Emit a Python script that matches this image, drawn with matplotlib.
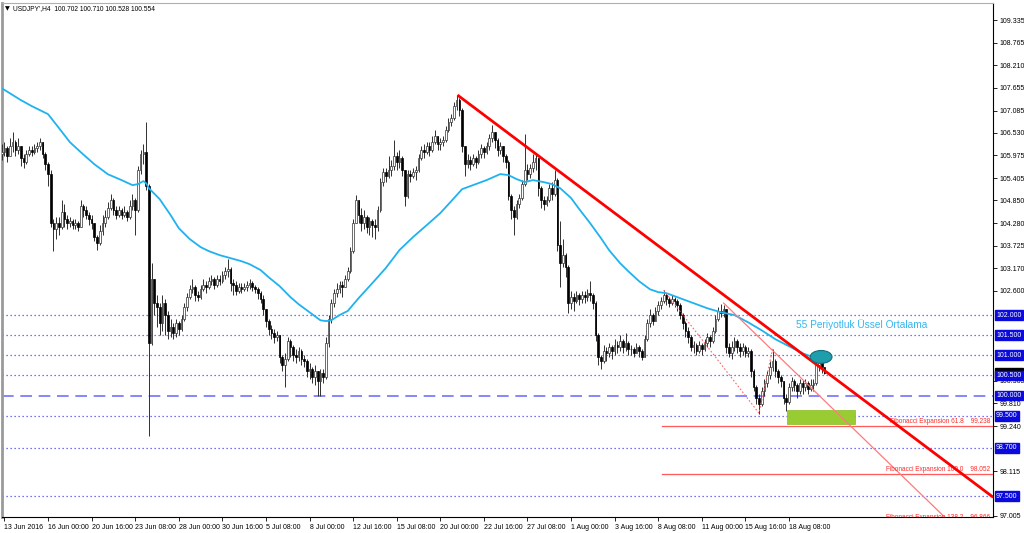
import numpy as np
import matplotlib
matplotlib.use("Agg")
import matplotlib.pyplot as plt
from matplotlib.patches import Rectangle, Ellipse
import matplotlib.transforms as mtransforms

# ---------------- data (H4 bars, index 1 = 13 Jun 2016 04:00) ----------------
first_open = 106.00
closes = [
    106.05, 106.15, 105.95, 106.2, 106.3, 106.1, 106.2, 105.9, 105.8, 106.0,
    106.1, 106.05, 106.15, 106.2, 106.3, 106.0, 105.75, 105.5, 104.3, 104.15,
    104.3, 104.2, 104.55, 104.4, 104.3, 104.35, 104.25, 104.3, 104.2, 104.7,
    104.6, 104.5, 104.4, 104.3, 103.95, 103.8, 104.1, 104.3, 104.45, 104.65,
    104.85, 104.6, 104.5, 104.6, 104.5, 104.55, 104.45, 104.7, 104.85, 104.6,
    105.6, 106.0, 106.05, 105.2, 101.3, 102.9, 102.3, 102.2, 101.8, 102.3,
    102.0, 101.6, 101.7, 101.55, 101.8, 101.65, 101.9, 102.2, 102.45, 102.65,
    102.7, 102.5, 102.45, 102.65, 102.75, 102.7, 102.85, 102.9, 102.75, 102.9,
    102.85, 103.0, 103.1, 103.15, 102.8, 102.75, 102.6, 102.7, 102.65, 102.7,
    102.75, 102.8, 102.7, 102.65, 102.55, 102.4, 102.15, 101.85, 101.65, 101.55,
    101.45, 101.5, 100.95, 100.75, 100.9, 101.35, 101.2, 101.0, 100.95, 101.1,
    100.9, 100.85, 100.6, 100.65, 100.45, 100.6, 100.35, 100.55, 100.45, 101.3,
    101.9, 102.3, 102.55, 102.65, 102.75, 102.7, 102.9, 103.1, 103.6, 104.3,
    104.85, 104.5, 104.3, 104.45, 104.2, 104.35, 104.25, 104.2, 104.6, 105.3,
    105.55, 105.45, 105.6, 105.7, 105.95, 105.8, 105.9, 105.6, 104.95, 105.5,
    105.45, 105.55, 105.6, 105.9, 106.1, 106.05, 106.2, 106.1, 106.3, 106.45,
    106.25, 106.3, 106.35, 106.6, 106.8, 106.9, 107.2, 107.35, 107.1, 106.2,
    105.75, 105.85, 105.75, 105.9, 105.8, 106.0, 106.15, 106.05, 106.2, 106.4,
    106.55, 106.35, 106.1, 106.2, 105.95, 105.8, 104.95, 104.6, 104.45, 104.75,
    104.9, 105.25, 105.6, 105.5, 105.65, 105.8, 105.9, 105.15, 104.85, 104.75,
    104.85, 105.15, 105.0, 105.35, 103.75, 103.3, 103.5, 103.2, 102.3, 102.45,
    102.35, 102.5, 102.4, 102.5, 102.45, 102.55, 102.5, 102.3, 101.5, 100.95,
    100.85, 101.1, 101.05, 101.2, 101.1, 101.25, 101.2, 101.35, 101.2, 101.3,
    101.15, 101.15, 101.05, 101.2, 101.1, 100.95, 101.4, 101.8, 102.0, 101.85,
    102.1, 102.25, 102.35, 102.5, 102.4, 102.3, 102.4, 102.35, 102.25, 102.0,
    101.8, 101.6, 101.45, 101.2, 101.25, 101.1, 101.25, 101.15, 101.3, 101.45,
    101.35, 101.6, 101.9, 102.1, 102.05, 102.15, 101.2, 101.05, 101.2, 101.35,
    101.2, 101.1, 101.2, 101.05, 101.1, 100.6, 100.2, 99.95, 99.8, 100.1,
    100.3, 100.5, 100.7, 100.85, 100.6, 100.45, 100.35, 99.95, 99.85, 100.2,
    100.35, 100.25, 100.1, 100.3, 100.2, 100.3, 100.15, 100.25, 100.3, 100.75,
    100.85, 100.702, 100.554,
]
highs = [
    106.25, 106.3, 106.2, 106.4, 106.55, 106.35, 106.4, 106.2, 106.0, 106.1,
    106.2, 106.2, 106.25, 106.3, 106.4, 106.3, 106.05, 105.8, 105.6, 104.4,
    104.45, 104.45, 104.85, 104.75, 104.5, 104.45, 104.4, 104.4, 104.35, 104.85,
    104.75, 104.7, 104.55, 104.5, 104.3, 104.0, 104.25, 104.5, 104.6, 104.8,
    105.0, 104.9, 104.7, 104.7, 104.65, 104.7, 104.6, 104.85, 105.0, 104.9,
    105.7, 106.1, 106.25, 106.8, 105.25, 103.3, 102.9, 102.5, 102.3, 102.5,
    102.4, 102.1, 101.9, 101.8, 101.9, 101.85, 102.0, 102.3, 102.55, 102.75,
    102.9, 102.75, 102.6, 102.75, 102.9, 102.85, 102.95, 103.0, 102.95, 103.0,
    103.0, 103.1, 103.2, 103.4, 103.2, 102.9, 102.85, 102.8, 102.8, 102.8,
    102.85, 102.9, 102.85, 102.75, 102.7, 102.6, 102.5, 102.15, 101.9, 101.75,
    101.65, 101.6, 101.45, 101.0, 101.05, 101.45, 101.4, 101.25, 101.15, 101.2,
    101.15, 101.0, 100.9, 100.8, 100.7, 100.75, 100.6, 100.65, 100.65, 101.45,
    102.0, 102.4, 102.65, 102.8, 102.85, 102.85, 103.0, 103.2, 103.7, 104.4,
    104.98, 104.85, 104.65, 104.6, 104.5, 104.45, 104.4, 104.4, 104.7, 105.4,
    105.65, 105.65, 105.95, 105.85, 106.35, 106.05, 106.1, 105.95, 105.6, 105.6,
    105.6, 105.65, 105.7, 106.0, 106.2, 106.25, 106.3, 106.3, 106.45, 106.6,
    106.45, 106.4, 106.45, 106.7, 106.9, 107.0, 107.3, 107.47, 107.4, 107.15,
    106.2, 106.0, 105.95, 106.0, 105.95, 106.1, 106.25, 106.2, 106.3, 106.5,
    106.72, 106.55, 106.4, 106.3, 106.2, 106.0, 105.85, 105.0, 104.7, 104.85,
    105.0, 105.35, 106.5, 105.75, 105.75, 106.0, 105.98, 105.9, 105.2, 104.95,
    104.95, 105.25, 105.3, 105.6, 105.4, 104.35, 103.9, 103.55, 103.25, 102.6,
    102.55, 102.6, 102.55, 102.6, 102.6, 102.65, 102.85, 102.55, 102.35, 101.55,
    101.0, 101.25, 101.2, 101.3, 101.25, 101.4, 101.35, 101.5, 101.4, 101.55,
    101.35, 101.25, 101.2, 101.3, 101.25, 101.15, 101.5, 101.9, 102.15, 102.05,
    102.2, 102.35, 102.45, 102.62, 102.55, 102.45, 102.5, 102.45, 102.4, 102.3,
    102.05, 101.85, 101.7, 101.5, 101.35, 101.3, 101.35, 101.3, 101.4, 101.55,
    101.5, 101.7, 102.0, 102.2, 102.28, 102.25, 102.15, 101.3, 101.35, 101.45,
    101.4, 101.3, 101.3, 101.25, 101.2, 101.15, 100.65, 100.25, 100.05, 100.2,
    100.4, 100.6, 100.85, 101.15, 100.9, 100.65, 100.5, 100.35, 100.05, 100.3,
    100.45, 100.4, 100.3, 100.4, 100.38, 100.4, 100.35, 100.4, 100.4, 100.85,
    101.0, 100.95, 100.710,
]
lows = [
    105.85, 105.95, 105.8, 105.95, 106.05, 105.95, 106.0, 105.7, 105.65, 105.75,
    105.95, 105.95, 106.0, 106.05, 106.1, 105.9, 105.6, 105.2, 104.2, 103.6,
    103.9, 104.0, 104.15, 104.2, 104.15, 104.2, 104.15, 104.15, 104.1, 104.5,
    104.45, 104.4, 104.25, 104.15, 103.85, 103.62, 103.75, 104.0, 104.2, 104.4,
    104.6, 104.5, 104.4, 104.45, 104.4, 104.45, 104.35, 104.4, 104.6, 104.0,
    104.55, 105.5, 105.75, 105.1, 99.0, 101.25, 102.0, 101.7, 101.5, 101.6,
    101.5, 101.4, 101.45, 101.4, 101.45, 101.5, 101.6, 101.85, 102.1, 102.4,
    102.55, 102.35, 102.35, 102.4, 102.6, 102.55, 102.65, 102.75, 102.65, 102.7,
    102.75, 102.8, 102.9, 102.95, 102.6, 102.5, 102.5, 102.55, 102.55, 102.6,
    102.6, 102.65, 102.6, 102.55, 102.4, 102.3, 102.0, 101.7, 101.5, 101.4,
    101.3, 101.35, 100.8, 100.6, 100.2, 100.85, 100.95, 100.85, 100.8, 100.85,
    100.75, 100.7, 100.45, 100.4, 100.3, 100.25, 100.0, 100.0, 100.3, 100.4,
    101.2, 101.8, 102.2, 102.45, 102.55, 102.45, 102.7, 102.85, 103.05, 103.55,
    104.3, 104.3, 104.1, 104.15, 104.05, 104.0, 103.95, 103.88, 104.1, 104.55,
    105.2, 105.3, 105.4, 105.45, 105.6, 105.6, 105.65, 105.45, 104.7, 104.9,
    105.3, 105.4, 105.35, 105.55, 105.85, 105.9, 106.0, 105.95, 106.05, 106.25,
    106.1, 106.1, 106.2, 106.3, 106.55, 106.7, 106.85, 107.1, 106.95, 106.05,
    105.45, 105.65, 105.6, 105.7, 105.65, 105.75, 105.9, 105.9, 106.0, 106.1,
    106.3, 106.15, 105.95, 106.0, 105.8, 105.65, 104.85, 104.4, 104.0, 104.4,
    104.65, 104.85, 105.2, 105.35, 105.4, 105.55, 105.6, 104.95, 104.65, 104.6,
    104.7, 104.8, 104.85, 104.95, 103.6, 102.7, 103.2, 102.95, 102.05, 102.15,
    102.1, 102.3, 102.25, 102.3, 102.3, 102.35, 102.35, 102.15, 101.35, 100.75,
    100.65, 100.8, 100.85, 100.95, 100.9, 101.0, 101.05, 101.1, 101.05, 101.1,
    101.0, 101.0, 100.95, 101.05, 100.95, 100.88, 100.95, 101.35, 101.7, 101.75,
    101.85, 102.0, 102.15, 102.3, 102.25, 102.2, 102.25, 102.2, 102.1, 101.9,
    101.65, 101.45, 101.3, 101.1, 101.05, 101.0, 101.05, 101.0, 101.1, 101.2,
    101.2, 101.3, 101.55, 101.85, 101.95, 101.95, 101.05, 100.95, 100.9, 101.1,
    101.05, 100.95, 101.0, 100.95, 100.95, 100.45, 100.1, 99.8, 99.55, 99.75,
    100.0, 100.2, 100.4, 100.6, 100.45, 100.3, 100.2, 99.8, 99.62, 99.8,
    100.1, 100.1, 99.95, 100.05, 100.05, 100.1, 100.05, 100.1, 100.1, 100.25,
    100.6, 100.55, 100.528,
]

# 55 period EMA
ema_bars = [1, 8, 12, 18, 22, 26, 30, 35, 40, 45, 49, 51, 53, 54, 55, 59, 63, 66,
            70, 74, 77, 81, 85, 89, 92, 96, 99, 103, 107, 110, 114, 118, 120, 122,
            125, 128, 132, 137, 142, 147, 152, 157, 162, 166, 170, 174, 179, 184,
            187, 190, 193, 196, 200, 203, 206, 210, 213, 217, 221, 224, 228, 231,
            235, 239, 242, 245, 250, 255, 260, 265, 270, 275, 280, 285, 290, 295,
            299, 302]
ema_vals = [107.64, 107.345, 107.195, 106.995, 106.65, 106.30, 106.05, 105.75, 105.50,
            105.355, 105.23, 105.255, 105.33, 105.28, 105.155, 104.88, 104.485, 104.16,
            103.89, 103.69, 103.59, 103.49, 103.415, 103.34, 103.265, 103.12, 102.94,
            102.72, 102.445, 102.27, 102.07, 101.87, 101.85, 101.87, 102.0, 102.10,
            102.42, 102.79, 103.17, 103.615, 103.94, 104.235, 104.535, 104.83, 105.13,
            105.23, 105.355, 105.505, 105.48, 105.38, 105.305, 105.355, 105.305, 105.255,
            105.155, 104.91, 104.635, 104.285, 103.91, 103.61, 103.29, 103.09, 102.84,
            102.64, 102.57, 102.545, 102.42, 102.295, 102.17, 102.07, 102.0, 101.82,
            101.62, 101.40, 101.225, 101.05, 100.95, 100.90]

time_tick_bars = [2, 18, 34, 50, 66, 82, 98, 114, 130, 146, 162, 178, 194, 210, 226,
                  242, 258, 274, 290]
time_tick_labels = ["13 Jun 2016", "16 Jun 00:00", "20 Jun 16:00", "23 Jun 08:00",
                    "28 Jun 00:00", "30 Jun 16:00", "5 Jul 08:00", "8 Jul 00:00",
                    "12 Jul 16:00", "15 Jul 08:00", "20 Jul 00:00", "22 Jul 16:00",
                    "27 Jul 08:00", "1 Aug 00:00", "3 Aug 16:00", "8 Aug 08:00",
                    "11 Aug 00:00", "15 Aug 16:00", "18 Aug 08:00"]
price_ticks = [109.335, 108.765, 108.210, 107.655, 107.085, 106.530, 105.975, 105.405,
               104.850, 104.280, 103.725, 103.170, 102.600, 100.365, 99.810, 99.240,
               98.115, 97.005]
level_lines = [102.0, 101.5, 101.0, 100.5, 99.5, 98.7, 97.5]
round_level = 100.0
bid_price = 100.554

trend_main = ([168.3, 365.0], [107.47, 97.47])
trend_thin = ([266.0, 352.0], [102.30, 96.66])
fib_points = ([244.0, 279.0, 284.0], [102.62, 99.56, 101.16])
fib_levels = [61.8, 100.0, 138.2]
fib_prices = [99.238, 98.052, 96.866]
fib_start_bar = 243.5
target_zone = (289.3, 314.2, 99.29, 99.63)
ema_marker = (301.8, 100.96)

title_text = "USDJPY',H4  100.702 100.710 100.528 100.554"
ema_text = "55 Periyotluk Üssel Ortalama"

# ---------------- figure ----------------
W, H = 1024, 533
fig = plt.figure(figsize=(W / 100, H / 100), dpi=100)
fig.patch.set_facecolor("white")
ax = fig.add_axes([2 / W, 16 / H, 991 / W, 514 / H])
ax.set_facecolor("white")
ax.set_xlim(1.1, 364.9)
ax.set_ylim(96.98, 109.758)

small = ["Liberation Sans Narrow", "Liberation Sans", "DejaVu Sans"]

c = np.array(closes)
h = np.array(highs)
l = np.array(lows)
o = np.r_[first_open, c[:-1]]
h = np.maximum(h, np.maximum(o, c))
l = np.minimum(l, np.minimum(o, c))
x = np.arange(1, len(c) + 1)
up = c >= o

ax.vlines(x, l, h, color="#303030", lw=0.7, zorder=3)
ax.bar(x[up], (c - o)[up], bottom=o[up], width=0.62, color="white",
       edgecolor="#303030", lw=0.5, zorder=4)
ax.bar(x[~up], (o - c)[~up], bottom=c[~up], width=0.62, color="black",
       edgecolor="black", lw=0.5, zorder=4)

# EMA
ax.plot(ema_bars, ema_vals, color="#1FB2F0", lw=1.3, zorder=5)

# horizontal levels
for lv in level_lines:
    ax.axhline(lv, color="#4646FF", lw=0.9, ls=(0, (1, 2.2)), zorder=2)
ax.axhline(round_level, color="#7272FF", lw=1.2, ls=(0, (7, 4)), zorder=2)

# fibonacci expansion
for lvl, pr in zip(fib_levels, fib_prices):
    ax.plot([fib_start_bar, 364.9], [pr, pr], color="#FF5A5A", lw=0.9, zorder=5)
    ax.text(363.8, pr + 0.02, f"Fibonacci Expansion {lvl:.1f}    {pr:.3f}",
            color="#FF2A2A", fontsize=4.7, family=small, ha="right", va="bottom",
            zorder=6, clip_on=True)
ax.plot(fib_points[0], fib_points[1], color="#FF6A6A", lw=0.8, ls=(0, (1.5, 1.8)), zorder=5)

# trend lines
ax.plot(trend_thin[0], trend_thin[1], color="#FF7A7A", lw=0.9, zorder=5)
ax.plot(trend_main[0], trend_main[1], color="#FF0000", lw=2.0, zorder=6,
        solid_capstyle="butt")

# target zone
ax.add_patch(Rectangle((target_zone[0], target_zone[2]), target_zone[1] - target_zone[0],
                       target_zone[3] - target_zone[2], facecolor="#99CC33",
                       edgecolor="#88BB22", lw=0.5, zorder=4))
# marker ellipse
ax.add_patch(Ellipse(ema_marker, 8.0, 0.32, facecolor="#1E9DAD", edgecolor="#136E79",
                     lw=0.8, zorder=7))

ax.text(292.6, 101.77, ema_text, color="#35B6EE", fontsize=7.3,
        family=["Liberation Sans", "DejaVu Sans"], ha="left", va="center", zorder=6)

# axes styling
ax.yaxis.tick_right()
ax.set_yticks(price_ticks)
ax.set_yticklabels([f"{p:.3f}" for p in price_ticks])
ax.tick_params(axis="y", direction="out", length=3, width=0.6, pad=2,
               labelsize=5.0, colors="black")
ax.set_xticks(time_tick_bars)
ax.set_xticklabels(time_tick_labels)
ax.tick_params(axis="x", direction="out", length=3, width=0.6, pad=2,
               labelsize=5.0, colors="black")
for lab in ax.get_xticklabels() + ax.get_yticklabels():
    lab.set_family(small)
for lab in ax.get_xticklabels():
    lab.set_ha("left")

for s in ["right", "bottom"]:
    ax.spines[s].set_color("black")
    ax.spines[s].set_linewidth(0.8)
ax.spines["left"].set_color("#9A9A9A")
ax.spines["left"].set_linewidth(2.0)
ax.spines["top"].set_color("#B0B0B0")
ax.spines["top"].set_linewidth(0.8)

# right axis price boxes
trans = mtransforms.blended_transform_factory(ax.transAxes, ax.transData)
# current bid marker (mostly hidden under the 100.500 box, as in the terminal)
ax.add_patch(Rectangle((1.0 + 2 / 991, bid_price - 0.12), 28 / 991, 0.24,
                       transform=trans, facecolor="black", edgecolor="black",
                       clip_on=False, zorder=8))
box_kw = dict(transform=trans, color="white", fontsize=5.0, family=small,
              ha="left", va="center", clip_on=False)
for lv in level_lines + [round_level]:
    ax.text(1.0 + 3 / 991, lv, f"{lv:.3f}", zorder=9,
            bbox=dict(boxstyle="square,pad=0.2", fc="#0A0ADC", ec="#0A0ADC"), **box_kw)

# title
fig.text(5 / W, 1 - 9 / H, "▼", fontsize=4.5, family=["DejaVu Sans"], va="center",
         ha="left", color="black")
fig.text(13 / W, 1 - 9 / H, title_text, fontsize=4.8, family=small, va="center",
         ha="left", color="black")

fig.savefig("out.png", dpi=100, facecolor="white")
